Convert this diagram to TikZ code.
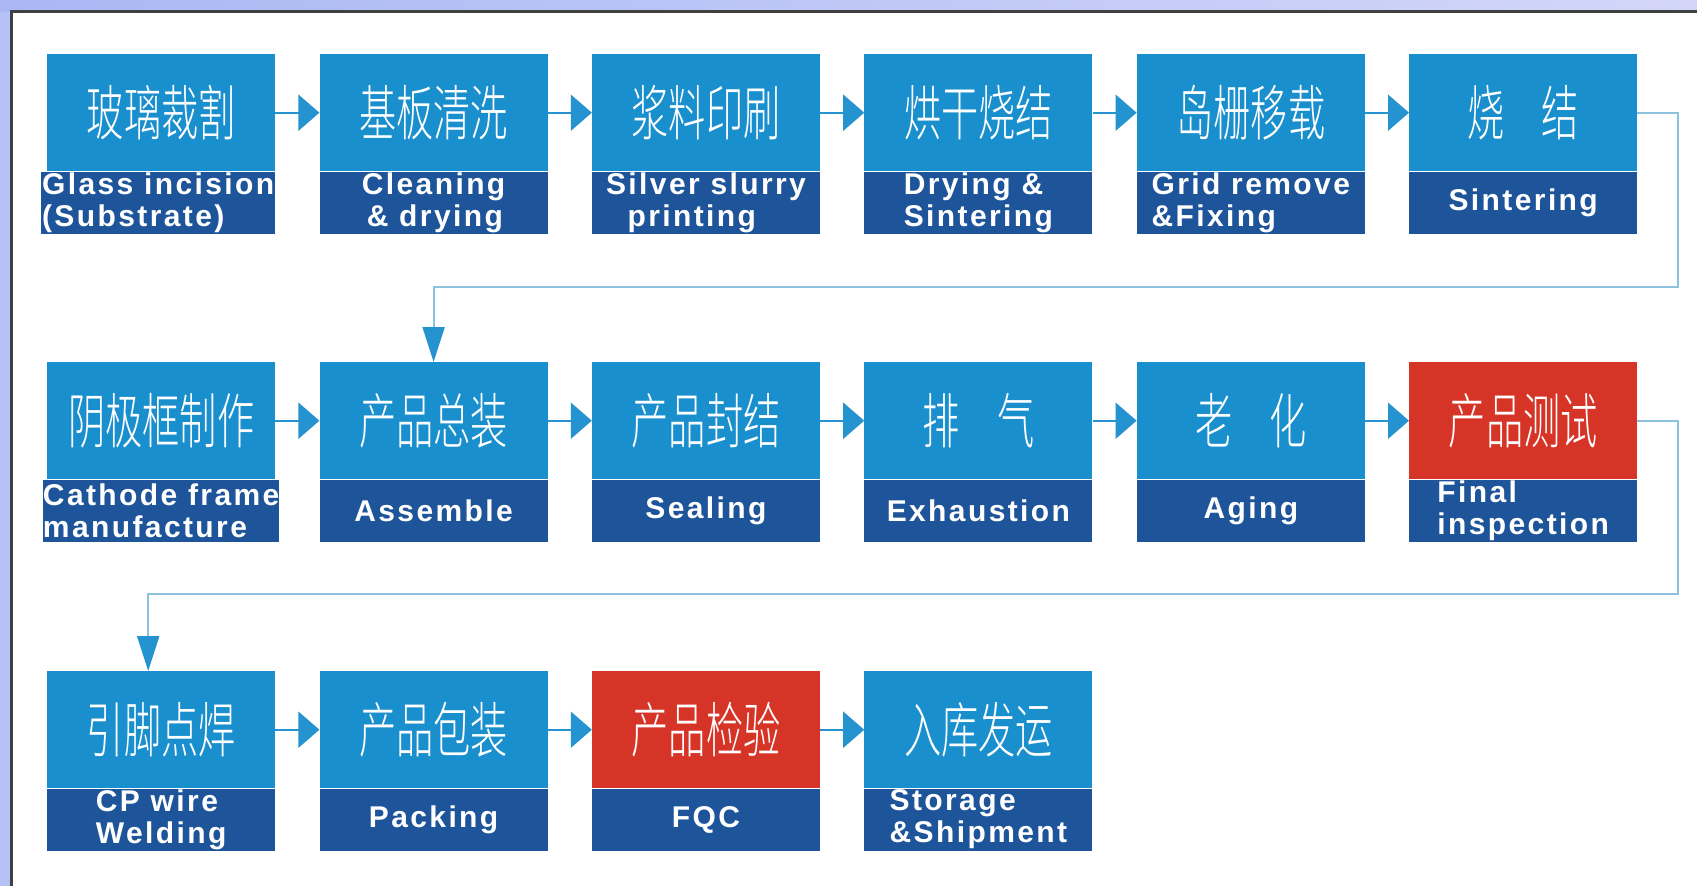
\documentclass[tikz,border=0pt]{standalone}
\usepackage{fontspec}
\setsansfont{Liberation Sans}[LetterSpace=8]
\newfontfamily\cjk{Noto Sans CJK SC Light}
\usetikzlibrary{arrows.meta,positioning}

\definecolor{stepblue}{HTML}{1A8FCD}
\definecolor{labelblue}{HTML}{1E5499}
\definecolor{checkred}{HTML}{D63427}
\definecolor{flowblue}{HTML}{2593D0}
\definecolor{wrapblue}{HTML}{8CC2DE}
\definecolor{violetleft}{HTML}{A9B8F4}
\definecolor{violetright}{HTML}{D3D6F8}
\definecolor{violetside}{HTML}{B6C2F6}

\newcommand{\cn}[1]{\scalebox{0.62}[1]{#1}}

\tikzset{
  cnbox/.style={fill=stepblue, text=white, anchor=north west, inner sep=0pt,
    minimum width=228pt, minimum height=117pt,
    font=\cjk\fontsize{60}{62}\selectfont},
  enbox/.style={fill=labelblue, text=white, inner sep=0pt, align=left,
    minimum width=228pt, minimum height=62pt,
    font=\sffamily\bfseries\fontsize{30}{32}\selectfont},
  flow/.style={draw=flowblue, line width=2pt, -{Triangle[length=21pt,width=36pt]}},
  wrap/.style={draw=wrapblue, line width=2pt, -{Triangle[length=35pt,width=22pt,color=flowblue]}}
}

\begin{document}
\begin{tikzpicture}[x=1pt,y=-1pt]
\useasboundingbox (0,0) rectangle (1697,886);
% Rahmen
\fill[violetside] (0,0) rectangle (1697,886);
\shade[left color=violetleft, right color=violetright] (0,0) rectangle (1697,11);
\fill[white] (11,11) rectangle (1697,886);
\draw[line width=3pt, black!75] (11.5,886) -- (11.5,11.5) -- (1697,11.5);

% erste Reihe
\node[cnbox] (s1) at (47,54) {\cn{玻璃裁割}};
\node[cnbox, right=44pt of s1.north east, anchor=north west] (s2) {\cn{基板清洗}};
\node[cnbox, right=44pt of s2.north east, anchor=north west] (s3) {\cn{浆料印刷}};
\node[cnbox, right=44pt of s3.north east, anchor=north west] (s4) {\cn{烘干烧结}};
\node[cnbox, right=44pt of s4.north east, anchor=north west] (s5) {\cn{岛栅移载}};
\node[cnbox, right=44pt of s5.north east, anchor=north west] (s6) {\cn{烧　结}};
\node[enbox, below=0pt of s1, xshift=-3pt, minimum width=234pt] (l1) {Glass incision\\(Substrate)};
\node[enbox, below=0pt of s2] (l2) {Cleaning\\\,\& drying};
\node[enbox, below=0pt of s3] (l3) {Silver slurry\\\ \ printing};
\node[enbox, below=0pt of s4] (l4) {Drying \&\\Sintering};
\node[enbox, below=0pt of s5] (l5) {Grid remove\\\&Fixing};
\node[enbox, below=0pt of s6] (l6) {Sintering};

% zweite Reihe
\node[cnbox] (s7) at (47,362) {\cn{阴极框制作}};
\node[cnbox, right=44pt of s7.north east, anchor=north west] (s8) {\cn{产品总装}};
\node[cnbox, right=44pt of s8.north east, anchor=north west] (s9) {\cn{产品封结}};
\node[cnbox, right=44pt of s9.north east, anchor=north west] (s10) {\cn{排　气}};
\node[cnbox, right=44pt of s10.north east, anchor=north west] (s11) {\cn{老　化}};
\node[cnbox, right=44pt of s11.north east, anchor=north west, fill=checkred] (s12) {\cn{产品测试}};
\node[enbox, below=0pt of s7] (l7) {Cathode frame\\manufacture};
\node[enbox, below=0pt of s8] (l8) {Assemble};
\node[enbox, below=0pt of s9] (l9) {Sealing};
\node[enbox, below=0pt of s10] (l10) {Exhaustion};
\node[enbox, below=0pt of s11] (l11) {Aging};
\node[enbox, below=0pt of s12] (l12) {Final\\inspection};

% dritte Reihe
\node[cnbox] (s13) at (47,671) {\cn{引脚点焊}};
\node[cnbox, right=44pt of s13.north east, anchor=north west] (s14) {\cn{产品包装}};
\node[cnbox, right=44pt of s14.north east, anchor=north west, fill=checkred] (s15) {\cn{产品检验}};
\node[cnbox, right=44pt of s15.north east, anchor=north west] (s16) {\cn{入库发运}};
\node[enbox, below=0pt of s13] (l13) {CP wire\\Welding};
\node[enbox, below=0pt of s14] (l14) {Packing};
\node[enbox, below=0pt of s15] (l15) {FQC};
\node[enbox, below=0pt of s16] (l16) {Storage\\\&Shipment};

% Pfeile
\draw[flow] (s1) -- (s2);
\draw[flow] (s2) -- (s3);
\draw[flow] (s3) -- (s4);
\draw[flow] (s4) -- (s5);
\draw[flow] (s5) -- (s6);
\draw[flow] (s7) -- (s8);
\draw[flow] (s8) -- (s9);
\draw[flow] (s9) -- (s10);
\draw[flow] (s10) -- (s11);
\draw[flow] (s11) -- (s12);
\draw[flow] (s13) -- (s14);
\draw[flow] (s14) -- (s15);
\draw[flow] (s15) -- (s16);

% Umlauf
\coordinate (turn1) at (1678,287);
\coordinate (turn2) at (1678,594);
\draw[wrap] (s6.east) -| (turn1) -| (s8.north);
\draw[wrap] (s12.east) -| (turn2) -| ([xshift=-13pt]s13.north);
\end{tikzpicture}
\end{document}
